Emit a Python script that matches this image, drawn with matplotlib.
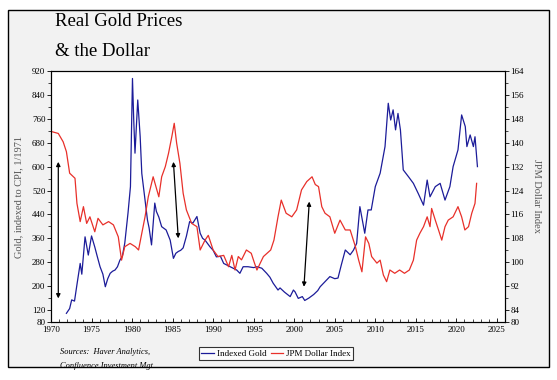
import matplotlib

matplotlib.use("Agg")

import matplotlib.pyplot as plt
from matplotlib.patches import Rectangle
from matplotlib.ticker import FixedLocator, MultipleLocator

# gold, indexed to CPI (left axis)
gold_years = [
    1971.9, 1972.3, 1972.55, 1972.9, 1973.2, 1973.6, 1973.8, 1974.2, 1974.6, 1975.0,
    1975.4, 1975.7, 1976.05, 1976.4, 1976.7, 1977.0, 1977.3, 1977.6, 1977.9, 1978.2,
    1978.5, 1978.8, 1979.1, 1979.5, 1979.8, 1980.05, 1980.2, 1980.36, 1980.7, 1981.0,
    1981.2, 1981.6, 1981.9, 1982.1, 1982.4, 1982.8, 1983.0, 1983.3, 1983.65, 1984.2,
    1984.7, 1985.1, 1985.4, 1985.7, 1986.0, 1986.3, 1986.7, 1987.1, 1987.5, 1988.0,
    1988.4, 1988.7, 1989.0, 1989.6, 1990.0, 1990.4, 1990.9, 1991.3, 1992.1, 1992.9,
    1993.3, 1993.7, 1994.3, 1995.0, 1995.4, 1996.0, 1996.6, 1997.0, 1997.4, 1998.0,
    1998.25, 1998.8, 1999.5, 1999.9, 2000.1, 2000.5, 2001.0, 2001.3, 2001.8, 2002.4,
    2002.9, 2003.2, 2003.8, 2004.4, 2005.0, 2005.4, 2005.8, 2006.3, 2006.9, 2007.3,
    2007.7, 2008.1, 2008.7, 2009.1, 2009.5, 2010.0, 2010.6, 2011.2, 2011.6, 2011.9,
    2012.2, 2012.5, 2012.8, 2013.1, 2013.45, 2014.1, 2014.7, 2015.3, 2015.95, 2016.4,
    2016.75, 2017.4, 2018.0, 2018.6, 2019.2, 2019.6, 2020.2, 2020.65, 2021.1, 2021.3,
    2021.7, 2022.1, 2022.3, 2022.6,
]
gold_values = [
    109, 125, 154, 150, 205, 276, 240, 365, 304, 368,
    331, 300, 265, 240, 198, 225, 243, 250, 254, 265,
    287, 300, 344, 445, 533, 895, 760, 645, 823, 700,
    577, 488, 421, 395, 338, 478, 450, 431, 399, 388,
    354, 293, 310, 316, 320, 328, 367, 416, 411, 433,
    377, 360, 354, 332, 320, 298, 300, 276, 265, 254,
    243, 265, 265, 262, 265, 260, 243, 230, 210, 187,
    194, 180, 165, 187, 181, 159, 165, 152, 160, 172,
    185, 198, 215, 232, 225, 227, 270, 321, 305, 320,
    343, 466, 377, 455, 455, 533, 578, 667, 812, 756,
    790, 723, 778, 723, 589, 566, 544, 510, 471, 555,
    499, 533, 544, 488, 533, 600, 656, 773, 734, 667,
    706, 667, 700, 600,
]

# JPM dollar index (right axis)
dollar_years = [
    1970.1, 1970.9, 1971.5, 1971.9, 1972.3, 1972.96, 1973.2, 1973.6, 1974.0, 1974.4,
    1974.8, 1975.4, 1975.8, 1976.4, 1977.1, 1977.7, 1978.3, 1978.7, 1979.1, 1979.75,
    1980.4, 1980.8, 1981.2, 1981.6, 1982.0, 1982.6, 1983.3, 1983.65, 1984.1, 1984.5,
    1984.9, 1985.2, 1985.5, 1985.9, 1986.3, 1986.7, 1987.35, 1988.0, 1988.4, 1989.0,
    1989.4, 1990.0, 1990.6, 1991.3, 1991.9, 1992.3, 1992.7, 1993.1, 1993.5, 1994.1,
    1994.7, 1995.1, 1995.4, 1996.2, 1997.1, 1997.5, 1998.0, 1998.4, 1999.0, 1999.7,
    2000.3, 2000.9, 2001.55, 2002.2, 2002.6, 2003.0, 2003.4, 2003.8, 2004.4, 2005.0,
    2005.65, 2006.3, 2006.9, 2007.55, 2007.95, 2008.35, 2008.8, 2009.2, 2009.55, 2010.2,
    2010.6, 2011.0, 2011.4, 2011.8, 2012.4, 2013.0, 2013.6, 2014.2, 2014.7, 2015.1,
    2015.5, 2015.95, 2016.4, 2016.75, 2016.95, 2017.4, 2017.8, 2018.2, 2018.6, 2019.0,
    2019.6, 2020.2, 2020.65, 2021.05, 2021.5, 2021.9, 2022.3, 2022.5,
]
dollar_values = [
    143.7, 143.1, 140.3, 137.0, 129.8, 128.1, 119.7, 113.6, 118.6, 113.0,
    115.2, 110.2, 114.7, 112.5, 113.6, 112.5, 108.5, 100.7, 105.2, 106.3,
    105.2, 104.1, 109.7, 115.2, 121.9, 128.6, 121.9, 128.6, 132.0, 136.5,
    142.0, 146.5, 139.8, 133.1, 123.1, 117.5, 113.0, 111.9, 104.1, 107.4,
    109.0, 104.1, 101.9, 102.3, 98.5, 102.3, 97.4, 101.9, 100.8, 104.1,
    103.0, 99.7, 97.4, 101.9, 104.1, 107.4, 115.2, 120.8, 116.4, 115.2,
    117.5, 124.2, 127.0, 128.6, 126.0, 125.3, 118.6, 116.4, 115.2, 109.7,
    114.1, 110.8, 110.8, 105.2, 100.7, 96.8, 108.5, 106.3, 101.9, 99.7,
    100.7, 95.7, 93.5, 97.4, 96.3, 97.4, 96.3, 97.4, 100.7, 107.4,
    109.7, 111.9, 115.2, 111.9, 118.0, 114.1, 110.8, 107.4, 111.9, 114.1,
    115.2, 118.6, 115.2, 110.8, 111.9, 116.4, 119.7, 126.4,
]

# double-headed arrows, (x0, y0) -> (x1, y1) in left-axis units
arrow_starts = [(1970.9, 159), (1985.7, 360), (2001.2, 198)]
arrow_ends = [(1970.9, 616), (1985.1, 616), (2001.86, 483)]

left_ticks = [80, 120, 200, 280, 360, 440, 520, 600, 680, 760, 840, 920]
right_ticks = [80, 84, 92, 100, 108, 116, 124, 132, 140, 148, 156, 164]
year_ticks = list(range(1970, 2030, 5))

BLUE = "#1c1c99"
RED = "#e8302a"
SERIF = "Liberation Serif"

fig = plt.figure(figsize=(5.57, 3.80), dpi=100)
fig.patch.set_facecolor("white")
fig.patches.append(Rectangle((8 / 557, 13 / 380), 541 / 557, 357 / 380,
                             transform=fig.transFigure, facecolor="#f2f2f2",
                             edgecolor="black", linewidth=1.0, zorder=-10))

ax = fig.add_axes([51 / 557, 58 / 380, 454 / 557, 251 / 380])
ax.set_facecolor("white")
ax2 = ax.twinx()

ax.plot(gold_years, gold_values, color=BLUE, linewidth=0.9, label="Indexed Gold")
ax2.plot(dollar_years, dollar_values, color=RED, linewidth=0.9, label="JPM Dollar Index")

for (x0, y0), (x1, y1) in zip(arrow_starts, arrow_ends):
    ax.annotate("", xy=(x1, y1), xytext=(x0, y0),
                arrowprops=dict(arrowstyle="<|-|>", color="black", lw=0.9,
                                mutation_scale=6, shrinkA=0, shrinkB=0))

ax.set_xlim(1970, 2026)
ax.set_ylim(80, 920)
ax2.set_ylim(80, 164)

ax.xaxis.set_major_locator(FixedLocator(year_ticks))
ax.xaxis.set_minor_locator(MultipleLocator(1))
ax.yaxis.set_major_locator(FixedLocator(left_ticks))
ax.yaxis.set_minor_locator(MultipleLocator(40))
ax2.yaxis.set_major_locator(FixedLocator(right_ticks))
ax2.yaxis.set_minor_locator(MultipleLocator(4))

ax.tick_params(axis="x", direction="in", length=3, width=0.6, labelsize=6.5, pad=3)
ax.tick_params(axis="x", which="minor", direction="in", length=2, width=0.5)
ax.tick_params(axis="y", direction="out", length=3, width=0.6, labelsize=6.5, pad=1)
ax.tick_params(axis="y", which="minor", direction="out", length=2, width=0.5)
ax2.tick_params(axis="y", direction="out", length=3, width=0.6, labelsize=6.5, pad=1)
ax2.tick_params(axis="y", which="minor", direction="out", length=2, width=0.5)
for lab in ax.get_xticklabels() + ax.get_yticklabels() + ax2.get_yticklabels():
    lab.set_fontfamily(SERIF)

for a in (ax, ax2):
    for sp in a.spines.values():
        sp.set_linewidth(0.8)
        sp.set_color("black")

ax.set_ylabel("Gold, indexed to CPI, 1/1971", fontsize=7.5, family=SERIF,
              color="#555555", labelpad=6)
ax2.set_ylabel("JPM Dollar Index", fontsize=7.5, family=SERIF,
               color="#555555", rotation=270, labelpad=12)

fig.text(55 / 557, 1 - 22 / 380, "Real Gold Prices", fontsize=13.5, family=SERIF,
         va="center", ha="left")
fig.text(55 / 557, 1 - 52 / 380, "& the Dollar", fontsize=13.5, family=SERIF,
         va="center", ha="left")

fig.text(60 / 557, 1 - 352 / 380, "Sources:  Haver Analytics,", fontsize=6,
         family=SERIF, style="italic", va="center", ha="left")
fig.text(60 / 557, 1 - 366 / 380, "Confluence Investment Mgt.", fontsize=6,
         family=SERIF, style="italic", va="center", ha="left")

h1, l1 = ax.get_legend_handles_labels()
h2, l2 = ax2.get_legend_handles_labels()
leg = fig.legend(h1 + h2, l1 + l2, loc="center", bbox_to_anchor=(276 / 557, 1 - 353.5 / 380),
                 ncol=2, frameon=True, fancybox=False, edgecolor="black",
                 prop={"family": SERIF, "size": 6.5}, handlelength=1.4,
                 handletextpad=0.3, columnspacing=0.5, borderpad=0.3,
                 borderaxespad=0)
leg.get_frame().set_linewidth(0.8)

fig.savefig("out.png", dpi=100)
plt.close(fig)
